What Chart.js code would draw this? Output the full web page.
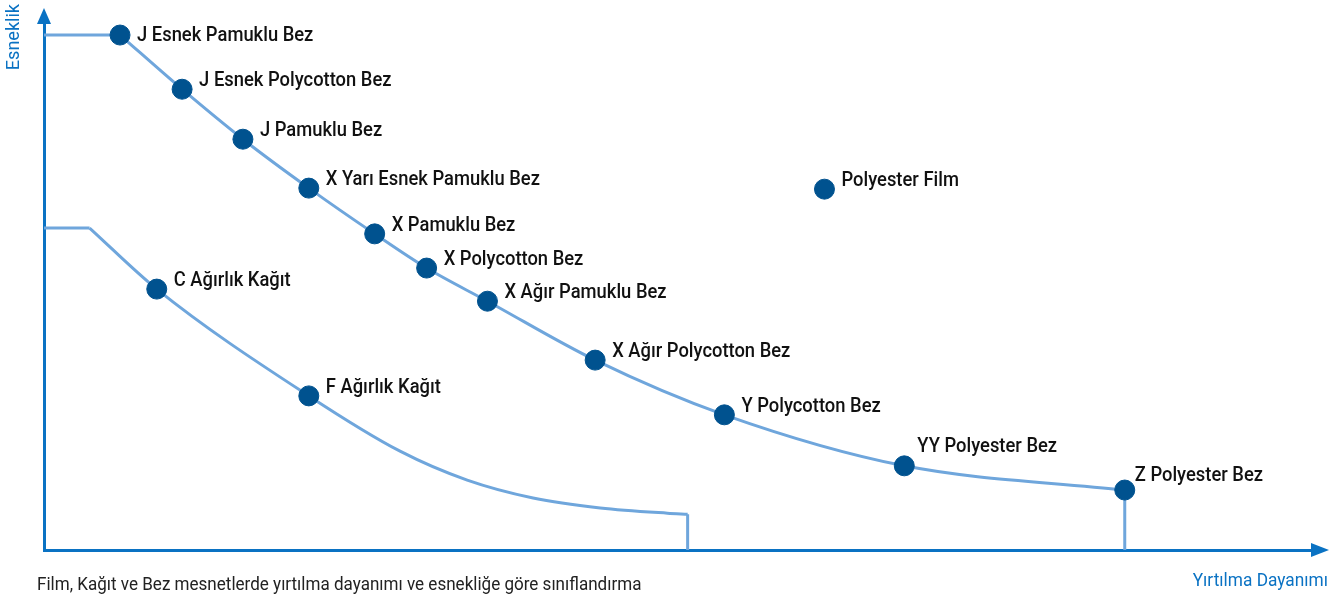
<!DOCTYPE html>
<html>
<head>
<meta charset="utf-8">
<script src="https://cdn.jsdelivr.net/npm/chart.js@4.4.1/dist/chart.umd.min.js"></script>
<style>
  html, body { margin: 0; padding: 0; background: #fff; }
  #wrap { width: 1343px; height: 598px; position: relative; }
</style>
</head>
<body>
<div id="wrap"><canvas id="chart"></canvas></div>
<script>
// === DATA ===
// malzemeler (0-100 göreli ölçek)
const materials = [
  "J Esnek Pamuklu Bez", "J Esnek Polycotton Bez", "J Pamuklu Bez",
  "X Yarı Esnek Pamuklu Bez", "X Pamuklu Bez", "X Polycotton Bez",
  "X Ağır Pamuklu Bez", "X Ağır Polycotton Bez", "Y Polycotton Bez",
  "YY Polyester Bez", "Z Polyester Bez", "Polyester Film",
  "C Ağırlık Kağıt", "F Ağırlık Kağıt"
];
const tearStrength = [6.0, 10.9, 15.7, 20.9, 26.1, 30.2, 35.0, 43.5, 53.7, 67.9, 85.3, 61.6, 8.9, 20.9];
const flexibility  = [97.9, 87.6, 78.1, 68.8, 60.1, 53.6, 47.3, 36.1, 25.7, 16.0, 11.4, 68.6, 49.6, 29.3];

// bez eğrisi
const clothCurveX = [6.0, 10.9, 15.7, 20.9, 26.1, 30.2, 35.0, 43.5, 53.7, 67.9, 85.3];
const clothCurveY = [97.9, 87.6, 78.1, 68.8, 60.1, 53.6, 47.3, 36.1, 25.7, 16.0, 11.4];
// kağıt eğrisi
const paperCurveX = [3.6, 8.9, 20.9, 28.1, 33.4, 38.6, 43.9, 49.2, 50.8];
const paperCurveY = [61.2, 49.6, 29.3, 18.8, 13.3, 9.9, 8.0, 7.0, 6.8];

const xTitle = "Yırtılma Dayanımı";
const yTitle = "Esneklik";
const caption = "Film, Kağıt ve Bez mesnetlerde yırtılma dayanımı ve esnekliğe göre sınıflandırma";

// === STYLE ===
const AXIS_BLUE = "#0a72c3";
const LINE_BLUE = "#6fa6dc";
const DOT_BLUE = "#00528f";
const FONT = "Roboto, 'Liberation Sans', Arial, sans-serif";
// etiket kaydırmaları (px), varsayılan dx 17, dy -8
const labelNudge = {
  "J Esnek Pamuklu Bez": { dy: 1 },
  "YY Polyester Bez": { dx: 13, dy: -19 },
  "Z Polyester Bez": { dx: 10, dy: -14 },
};

const toXY = (xs, ys) => xs.map((x, i) => ({ x: x, y: ys[i] }));
const last = (arr) => arr[arr.length - 1];

const lineDefaults = {
  type: "line",
  borderColor: LINE_BLUE,
  borderWidth: 3,
  pointRadius: 0,
  fill: false,
  tension: 0,
  order: 2,
};

// yatayda sıkıştırılmış (dar) yazı
function narrowText(ctx, text, x, y, align, squeeze) {
  const w = ctx.measureText(text).width * squeeze;
  const x0 = align === "right" ? x - w : x;
  ctx.save();
  ctx.translate(x0, y);
  ctx.scale(squeeze, 1);
  ctx.textAlign = "left";
  ctx.fillText(text, 0, 0);
  ctx.restore();
}

// eksen okları, başlıklar ve nokta etiketleri
const decor = {
  id: "decor",
  afterDatasetsDraw(chart) {
    const { ctx, chartArea, scales } = chart;
    const left = scales.x.getPixelForValue(0);
    const bottom = scales.y.getPixelForValue(0);
    ctx.save();
    // oklar
    ctx.fillStyle = AXIS_BLUE;
    ctx.beginPath();
    ctx.moveTo(left - 7, chartArea.top);
    ctx.lineTo(left + 7, chartArea.top);
    ctx.lineTo(left, chartArea.top - 16);
    ctx.closePath();
    ctx.fill();
    ctx.beginPath();
    ctx.moveTo(chartArea.right, bottom - 7);
    ctx.lineTo(chartArea.right, bottom + 7);
    ctx.lineTo(chartArea.right + 18, bottom);
    ctx.closePath();
    ctx.fill();

    // etiketler
    const meta = chart.getDatasetMeta(0);
    ctx.fillStyle = "#111";
    ctx.font = "500 21px " + FONT;
    ctx.textBaseline = "middle";
    meta.data.forEach((pt, i) => {
      const name = materials[i];
      const n = labelNudge[name] || {};
      const dx = n.dx !== undefined ? n.dx : 17;
      const dy = n.dy !== undefined ? n.dy : -8;
      narrowText(ctx, name, pt.x + dx, pt.y + dy, "left", 0.875);
    });

    // eksen başlıkları
    ctx.fillStyle = AXIS_BLUE;
    ctx.font = "19px " + FONT;
    narrowText(ctx, xTitle, 1328, 581, "right", 0.91);
    ctx.save();
    ctx.translate(14, 4);
    ctx.rotate(-Math.PI / 2);
    narrowText(ctx, yTitle, 0, 0, "right", 0.95);
    ctx.restore();

    // alt yazı
    ctx.fillStyle = "#222";
    ctx.font = "18px " + FONT;
    narrowText(ctx, caption, 37, 585, "left", 0.947);
    ctx.restore();
  },
};

const chart = new Chart(document.getElementById("chart"), {
  type: "scatter",
  data: {
    datasets: [
      {
        label: "Malzemeler",
        data: toXY(tearStrength, flexibility),
        backgroundColor: DOT_BLUE,
        borderColor: DOT_BLUE,
        pointRadius: 10,
        pointHoverRadius: 10,
        order: 0,
      },
      { ...lineDefaults, data: toXY(clothCurveX, clothCurveY), cubicInterpolationMode: "monotone" },
      { ...lineDefaults, data: [{ x: 0, y: clothCurveY[0] }, { x: clothCurveX[0], y: clothCurveY[0] }] },
      { ...lineDefaults, data: [{ x: last(clothCurveX), y: last(clothCurveY) }, { x: last(clothCurveX), y: 0 }] },
      { ...lineDefaults, data: toXY(paperCurveX, paperCurveY), cubicInterpolationMode: "monotone" },
      { ...lineDefaults, data: [{ x: 0, y: paperCurveY[0] }, { x: paperCurveX[0], y: paperCurveY[0] }] },
      { ...lineDefaults, data: [{ x: last(paperCurveX), y: last(paperCurveY) }, { x: last(paperCurveX), y: 0 }] },
    ],
  },
  options: {
    responsive: true,
    maintainAspectRatio: false,
    animation: false,
    layout: { padding: { left: 44, top: 24, right: 32, bottom: 48 } },
    plugins: {
      legend: { display: false },
      tooltip: { enabled: false },
    },
    scales: {
      x: {
        type: "linear",
        min: 0,
        max: 100,
        grid: { display: false, drawTicks: false },
        ticks: { display: false },
        border: { display: true, color: AXIS_BLUE, width: 3 },
      },
      y: {
        type: "linear",
        min: 0,
        max: 100,
        grid: { display: false, drawTicks: false },
        ticks: { display: false },
        border: { display: true, color: AXIS_BLUE, width: 3 },
      },
    },
  },
  plugins: [decor],
});
</script>
</body>
</html>
